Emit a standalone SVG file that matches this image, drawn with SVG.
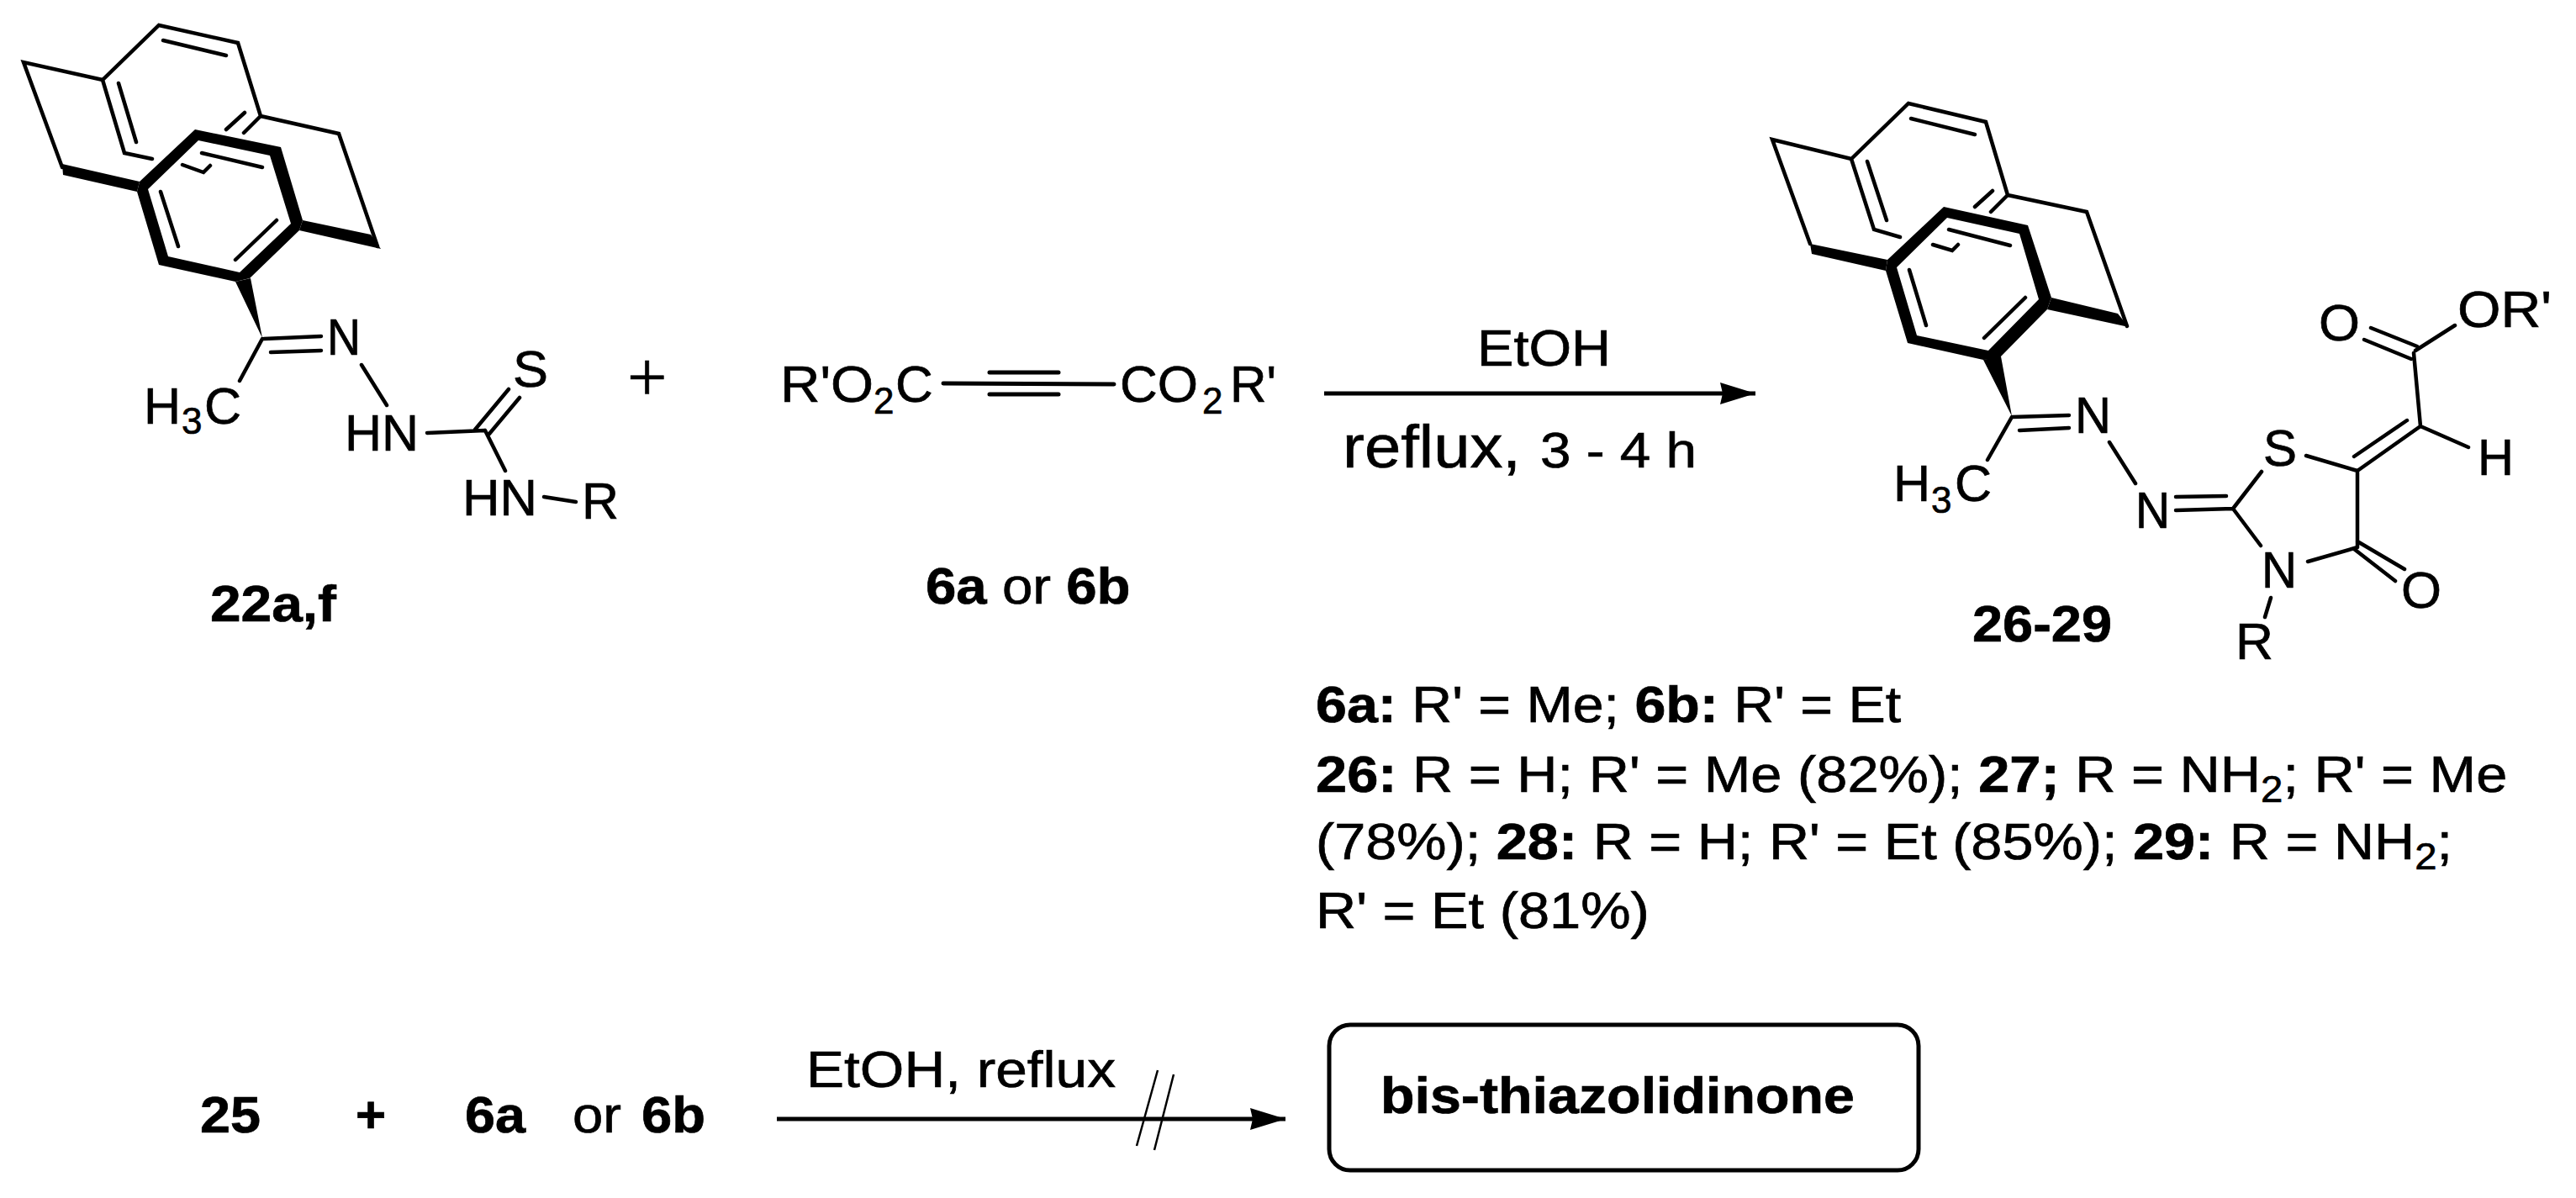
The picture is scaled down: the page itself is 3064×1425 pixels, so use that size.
<svg xmlns="http://www.w3.org/2000/svg" width="3064" height="1425" viewBox="0 0 3064 1425">
<style>
text{font-family:"Liberation Sans",Arial,sans-serif;font-size:61px;fill:#000;stroke:#000;stroke-width:.7}
.b{font-weight:bold;font-size:62px}
.l{font-size:62px}
.sub{font-size:44px}
.t{fill:none;stroke:#000;stroke-width:4.5;stroke-linejoin:miter;stroke-linecap:round}
.w{fill:#000;stroke:none;fill-rule:evenodd}
</style>
<defs>
<marker id="head" markerUnits="userSpaceOnUse" markerWidth="44" markerHeight="28" refX="42" refY="13" orient="auto"><path d="M0 0L42 13L0 26L3 13Z" fill="#000"/></marker>
</defs>
<rect width="3064" height="1425" fill="#fff"/>
<g id="compound-22">
<path class="t" d="M74 199L28 74L122 95L189 30L283 51L310 138L403 159L449 293M122 95L148 182L181 189M194 48L269 66M141 99L162 169M291 134L269 154M310 138L290 158M217 196L242 205L250 197M240 182L312 199M191 228L212 293M329 262L280 309"/>
<path class="w" d="M232 154L334 175L360 262L356 274L297 331L280 335L189 315L163 228L166 216ZM236 167L176 225L200 305L285 324L346 266L321 185Z"/>
<path class="w" d="M74 195L166 216L163 228L75 208ZM360 262L441 279L453 296L356 274ZM280 335L298 331L312 402Z"/>
<path class="t" d="M314 403L382 400M322 419L382 417M312 403L285 453M430 434L460 482M508 515L577 512M565 511L605 463M582 516L618 473M577 512L601 560M647 591L685 597"/>
<text x="389" y="422" textLength="40" lengthAdjust="spacingAndGlyphs">N</text>
<text x="171" y="504">H</text><text x="216" y="516" class="sub">3</text><text x="243" y="504">C</text>
<text x="410" y="536" textLength="88" lengthAdjust="spacingAndGlyphs">HN</text>
<text x="550" y="613" textLength="89" lengthAdjust="spacingAndGlyphs">HN</text>
<text x="692" y="617" textLength="44" lengthAdjust="spacingAndGlyphs">R</text>
<text x="610" y="460" textLength="42" lengthAdjust="spacingAndGlyphs">S</text>
<text class="b" x="250" y="739" textLength="150" lengthAdjust="spacingAndGlyphs">22a,f</text>
</g>
<text id="plus-top" x="746" y="477" style="font-family:'Liberation Serif',serif;font-size:84px">+</text>
<g id="reagent-6">
<path class="t" style="stroke-width:5" d="M1122 456L1325 457M1177 443L1259 443M1177 469L1259 469"/>
<text class="l" x="928" y="478" textLength="111" lengthAdjust="spacingAndGlyphs">R'O</text><text x="1039" y="492" class="sub">2</text><text class="l" x="1065" y="478">C</text>
<text class="l" x="1332" y="478" textLength="93" lengthAdjust="spacingAndGlyphs">CO</text><text x="1430" y="492" class="sub">2</text><text class="l" x="1463" y="478" textLength="55" lengthAdjust="spacingAndGlyphs">R'</text>
<text class="l" transform="translate(1101 718) scale(1.055 1)"><tspan class="b">6a</tspan> or <tspan class="b">6b</tspan></text>
</g>
<g id="connectors">
<path d="M1575 468L2088 468" fill="none" stroke="#000" stroke-width="5" marker-end="url(#head)"/>
<path d="M924 1331L1529 1331" fill="none" stroke="#000" stroke-width="5" marker-end="url(#head)"/>
<path d="M1377 1273L1352 1363M1396 1278L1373 1368" fill="none" stroke="#000" stroke-width="2.5"/>
</g>
<g id="conditions-top">
<text x="1757" y="435" textLength="159" lengthAdjust="spacingAndGlyphs">EtOH</text>
<text style="font-size:72px" x="1597" y="556" textLength="212" lengthAdjust="spacingAndGlyphs">reflux,</text>
<text style="font-size:60px" x="1832" y="556" textLength="186" lengthAdjust="spacingAndGlyphs">3 - 4 h</text>
</g>
<g id="compound-26-29">
<path class="t" d="M2153 290L2108 166L2202 189L2270 123L2362 145L2388 232L2482 252L2530 388M2202 189L2229 273L2260 282M2273 141L2349 160M2221 192L2244 262M2370 227L2349 246M2388 232L2368 252M2299 291L2322 298L2329 291M2318 273L2391 292M2271 321L2291 387M2409 354L2360 402"/>
<path class="w" d="M2312 246L2412 268L2440 354L2435 368L2377 427L2359 428L2269 408L2243 322L2245 309ZM2316 259L2256 318L2280 399L2365 417L2425 356L2402 278Z"/>
<path class="w" d="M2153 290L2245 309L2243 322L2155 302ZM2440 354L2519 373L2532 389L2435 368ZM2359 428L2380 424L2393 495Z"/>
<path class="t" d="M2394 496L2461 494M2402 512L2461 509M2393 496L2364 547M2509 526L2540 575M2588 591L2648 590M2588 607L2656 605M2656 605L2690 561M2656 605L2689 649M2743 542L2804 560M2804 560L2804 651M2745 668L2804 651M2804 644L2860 677M2800 653L2849 691M2701 711L2694 734M2804 560L2879 507M2800 543L2863 500M2879 507L2936 532M2879 507L2871 420M2820 390L2875 412M2812 404L2868 427M2873 417L2920 387"/>
<text x="2468" y="515" textLength="43" lengthAdjust="spacingAndGlyphs">N</text>
<text x="2252" y="596">H</text><text x="2297" y="610" class="sub">3</text><text x="2325" y="596">C</text>
<text x="2540" y="628" textLength="41" lengthAdjust="spacingAndGlyphs">N</text>
<text x="2692" y="554" textLength="40" lengthAdjust="spacingAndGlyphs">S</text>
<text x="2690" y="699" textLength="42" lengthAdjust="spacingAndGlyphs">N</text>
<text x="2856" y="723" textLength="48" lengthAdjust="spacingAndGlyphs">O</text>
<text x="2659" y="784" textLength="45" lengthAdjust="spacingAndGlyphs">R</text>
<text x="2947" y="565" textLength="43" lengthAdjust="spacingAndGlyphs">H</text>
<text x="2758" y="405" textLength="49" lengthAdjust="spacingAndGlyphs">O</text>
<text x="2923" y="389" textLength="112" lengthAdjust="spacingAndGlyphs">OR'</text>
<text class="b" x="2346" y="763" textLength="166" lengthAdjust="spacingAndGlyphs">26-29</text>
</g>
<g id="legend">
<text class="l" transform="translate(1565 859) scale(1.07 1)"><tspan class="b">6a:</tspan> R' = Me; <tspan class="b">6b:</tspan> R' = Et</text>
<text class="l" transform="translate(1565 942) scale(1.077 1)"><tspan class="b">26:</tspan> R = H; R' = Me (82%); <tspan class="b">27;</tspan> R = NH<tspan class="sub" dy="12">2</tspan><tspan dy="-12">; R' = Me</tspan></text>
<text class="l" transform="translate(1565 1022) scale(1.075 1)">(78%); <tspan class="b">28:</tspan> R = H; R' = Et (85%); <tspan class="b">29:</tspan> R = NH<tspan class="sub" dy="12">2</tspan><tspan dy="-12">;</tspan></text>
<text class="l" transform="translate(1565 1104) scale(1.077 1)">R' = Et (81%)</text>
</g>
<g id="equation-bottom">
<text class="b" x="238" y="1347" textLength="72" lengthAdjust="spacingAndGlyphs">25</text>
<text class="b" x="423" y="1347">+</text>
<text class="b" x="553" y="1347" textLength="72" lengthAdjust="spacingAndGlyphs">6a</text>
<text class="l" x="681" y="1347" textLength="58" lengthAdjust="spacingAndGlyphs">or</text>
<text class="b" x="763" y="1347" textLength="76" lengthAdjust="spacingAndGlyphs">6b</text>
<text x="959" y="1293" textLength="368" lengthAdjust="spacingAndGlyphs">EtOH, reflux</text>
</g>
<g id="product-box">
<rect x="1581" y="1219" width="701" height="173" rx="25" ry="25" fill="none" stroke="#000" stroke-width="5"/>
<text class="b" x="1642" y="1324" textLength="564" lengthAdjust="spacingAndGlyphs">bis-thiazolidinone</text>
</g>
</svg>
